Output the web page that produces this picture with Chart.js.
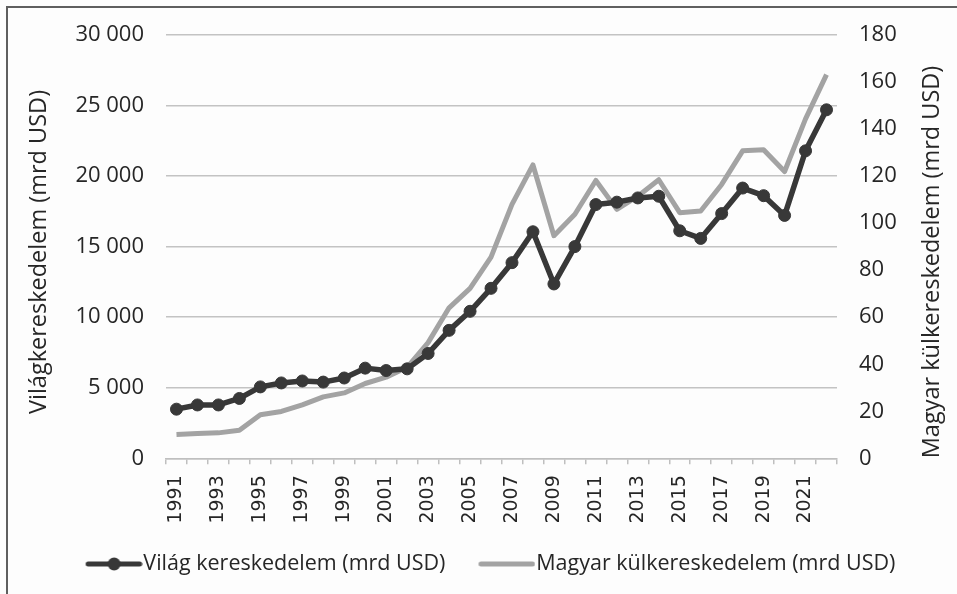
<!DOCTYPE html>
<html>
<head>
<meta charset="utf-8">
<script src="https://cdn.jsdelivr.net/npm/chart.js@4.4.1/dist/chart.umd.min.js"></script>
<style>
  html, body { margin: 0; padding: 0; background: #fdfdfd; }
</style>
</head>
<body>
<canvas id="chart" width="957" height="594"></canvas>
<script>
// values
const years = [1991, 1992, 1993, 1994, 1995, 1996, 1997, 1998, 1999, 2000,
  2001, 2002, 2003, 2004, 2005, 2006, 2007, 2008, 2009, 2010,
  2011, 2012, 2013, 2014, 2015, 2016, 2017, 2018, 2019, 2020,
  2021, 2022];
const worldTrade = [3480, 3780, 3780, 4240, 5060, 5340, 5480, 5400, 5690, 6390,
  6220, 6340, 7430, 9070, 10420, 12050, 13870, 16060, 12360, 15010,
  17990, 18160, 18460, 18580, 16130, 15590, 17350, 19160, 18620, 17220,
  21800, 24710];
const hungaryTrade = [10.1, 10.5, 10.8, 11.9, 18.5, 19.9, 22.7, 26.1, 27.8, 31.8,
  34.5, 38.7, 49.2, 64.0, 72.3, 85.6, 108.0, 124.8, 94.7, 103.8,
  118.2, 105.9, 111.5, 118.5, 104.5, 105.2, 116.5, 130.8, 131.3, 122.0,
  144.4, 163.2];
const seriesNames = ['Világ kereskedelem (mrd USD)', 'Magyar külkereskedelem (mrd USD)'];
const axisTitles = ['Világkereskedelem (mrd USD)', 'Magyar külkereskedelem (mrd USD)'];
const leftAxis = { max: 30000, step: 5000 };
const rightAxis = { max: 180, step: 20 };

const DARK = '#383838';
const GRAY = '#a3a3a3';
const TEXT = '#262626';
const UI_FONT = 'Open Sans';

// legend swatches: thick line ending right before the text,
// the world series also gets its round marker
function makeSwatch(color, withDot) {
  const c = document.createElement('canvas');
  c.width = 70;
  c.height = 14;
  const g = c.getContext('2d');
  g.strokeStyle = color;
  g.lineWidth = 5;
  g.lineCap = 'round';
  g.beginPath();
  g.moveTo(15.5, 7);
  g.lineTo(67, 7);
  g.stroke();
  if (withDot) {
    g.fillStyle = color;
    g.beginPath();
    g.arc(41.5, 7, 6.5, 0, Math.PI * 2);
    g.fill();
  }
  return c;
}
const swatches = [makeSwatch(DARK, true), makeSwatch(GRAY, false)];

const spaced = v => String(v).replace(/\B(?=(\d{3})+(?!\d))/g, ' ');

// outer frame + both axis titles (read bottom-to-top, like the original)
const frameAndTitles = {
  id: 'frameAndTitles',
  beforeDraw(chart) {
    const ctx = chart.ctx;
    ctx.save();
    ctx.fillStyle = '#fdfdfd';
    ctx.fillRect(0, 0, chart.width, chart.height);
    ctx.strokeStyle = '#5f5f5f';
    ctx.lineWidth = 2;
    ctx.strokeRect(7, 7, chart.width + 20, chart.height + 20);
    ctx.restore();
  },
  afterDraw(chart) {
    const ctx = chart.ctx;
    const put = (text, x, y) => {
      ctx.save();
      ctx.translate(x, y);
      ctx.rotate(-Math.PI / 2);
      ctx.font = '23.5px "' + UI_FONT + '"';
      ctx.fillStyle = TEXT;
      ctx.textAlign = 'center';
      ctx.textBaseline = 'middle';
      ctx.fillText(text, 0, 0);
      ctx.restore();
    };
    put(axisTitles[0], 39, 252);
    put(axisTitles[1], 932, 262);
  }
};

new Chart(document.getElementById('chart'), {
  type: 'line',
  data: {
    labels: years,
    datasets: [
      {
        label: seriesNames[0],
        data: worldTrade,
        yAxisID: 'y',
        borderColor: DARK,
        backgroundColor: DARK,
        borderWidth: 5.5,
        borderJoinStyle: 'round',
        pointRadius: 6,
        pointBorderWidth: 1,
        pointBorderColor: DARK,
        pointBackgroundColor: DARK,
        tension: 0
      },
      {
        label: seriesNames[1],
        data: hungaryTrade,
        yAxisID: 'y2',
        borderColor: GRAY,
        backgroundColor: GRAY,
        borderWidth: 5,
        borderJoinStyle: 'round',
        pointRadius: 0,
        tension: 0
      }
    ]
  },
  options: {
    responsive: false,
    animation: false,
    layout: { padding: { top: 32, left: 21, right: 0, bottom: 9.25 } },
    plugins: {
      tooltip: { enabled: false },
      legend: {
        position: 'bottom',
        labels: {
          usePointStyle: true,
          pointStyleWidth: 50,
          padding: 30,
          color: TEXT,
          font: { family: UI_FONT, size: 21.5 },
          generateLabels: chart => Chart.defaults.plugins.legend.labels.generateLabels(chart)
            .map((item, i) => ({ ...item, pointStyle: swatches[i] }))
        }
      }
    },
    scales: {
      x: {
        offset: true,
        grid: {
          display: true,
          offset: true,
          drawOnChartArea: false,
          drawTicks: true,
          tickLength: 6,
          color: '#bfbfbf',
          lineWidth: 1.5
        },
        border: { display: true, color: '#bfbfbf', width: 1.5 },
        ticks: {
          autoSkip: false,
          minRotation: 90,
          maxRotation: 90,
          padding: 11,
          color: TEXT,
          font: { family: 'DejaVu Sans', size: 19 },
          callback: (v, i) => (i % 2 === 0 ? years[i] : '')
        },
        afterFit: s => { s.height = 65; }
      },
      y: {
        position: 'left',
        min: 0,
        max: leftAxis.max,
        grid: { color: '#c3c3c3', lineWidth: 1.5, drawTicks: false },
        border: { display: false },
        ticks: {
          stepSize: leftAxis.step,
          padding: 22,
          color: TEXT,
          font: { family: UI_FONT, size: 22 },
          callback: v => spaced(v)
        },
        afterFit: s => { s.width = 145; }
      },
      y2: {
        position: 'right',
        min: 0,
        max: rightAxis.max,
        grid: { drawOnChartArea: false, drawTicks: false },
        border: { display: false },
        ticks: {
          stepSize: rightAxis.step,
          padding: 22,
          color: TEXT,
          font: { family: UI_FONT, size: 22 }
        },
        afterFit: s => { s.width = 120; }
      }
    }
  },
  plugins: [frameAndTitles]
});
</script>
</body>
</html>
